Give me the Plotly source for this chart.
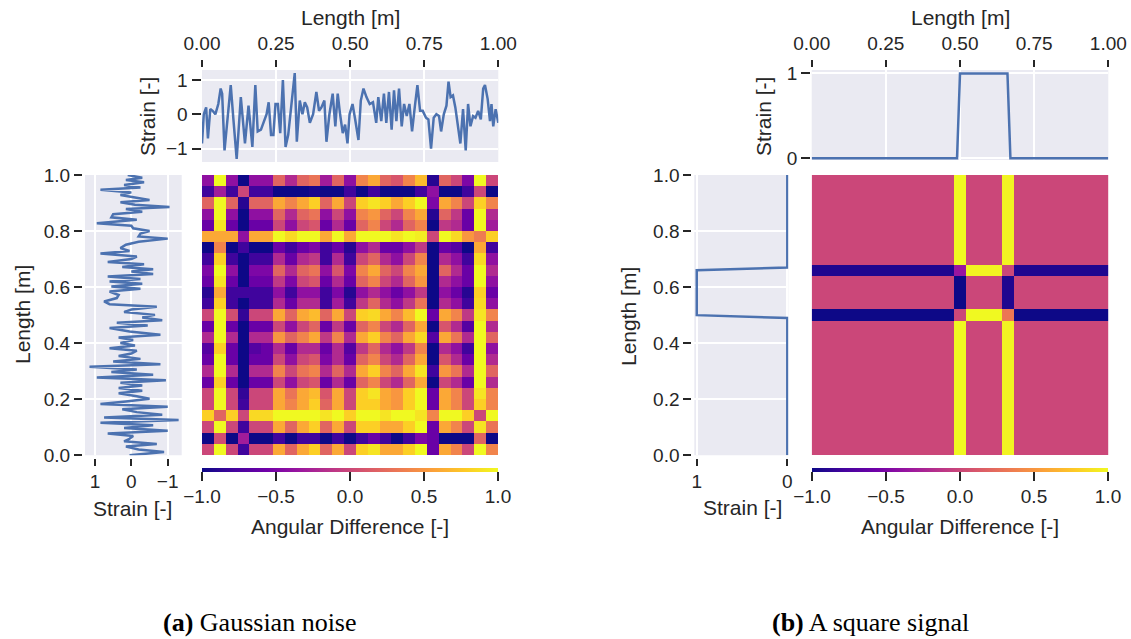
import plotly.graph_objects as go

# ---------------- DATA ----------------
# (a) Gaussian noise: signal along the top (x = length, y = strain)
gn_top_length = [0.0, 0.006, 0.014, 0.020, 0.028, 0.036, 0.045, 0.055, 0.063, 0.068, 0.076, 0.085, 0.097, 0.106,
                 0.117, 0.131, 0.145, 0.157, 0.170, 0.180, 0.188, 0.199, 0.210, 0.218, 0.225, 0.233, 0.241, 0.248,
                 0.256, 0.264, 0.273, 0.282, 0.291, 0.301, 0.313, 0.320, 0.330, 0.339, 0.347, 0.355, 0.364, 0.375,
                 0.386, 0.395, 0.403, 0.413, 0.420, 0.430, 0.441, 0.450, 0.458, 0.466, 0.475, 0.483, 0.491, 0.498,
                 0.508, 0.517, 0.528, 0.536, 0.545, 0.555, 0.566, 0.577, 0.588, 0.595, 0.605, 0.614, 0.622, 0.631,
                 0.640, 0.648, 0.656, 0.665, 0.674, 0.682, 0.691, 0.700, 0.709, 0.718, 0.727, 0.736, 0.745, 0.756,
                 0.764, 0.773, 0.782, 0.791, 0.800, 0.807, 0.816, 0.825, 0.832, 0.839, 0.847, 0.855, 0.864, 0.872,
                 0.881, 0.890, 0.898, 0.906, 0.915, 0.923, 0.932, 0.941, 0.949, 0.955, 0.964, 0.972, 0.977, 0.983,
                 0.991, 1.0]
gn_top_strain = [-0.85, 0.0, 0.2, -0.7, 0.15, 0.1, 0.0, 0.3, 0.75, 0.6, -1.05, -0.15, 0.85, -0.15,
                 -1.3, 0.5, -0.85, 0.25, -0.95, 0.85, -0.5, -0.45, -0.2, 0.0, 0.35, -0.6, -0.6, 0.3,
                 0.3, -0.55, 1.0, -0.95, -0.6, 0.3, 1.2, -0.8, 0.4, 0.0, 0.35, 0.2, -0.25, 0.0,
                 0.65, 0.1, 0.2, 0.4, -0.8, 0.0, 0.6, -0.35, 0.6, 0.0, -0.55, -0.3, -0.85, 0.0,
                 0.3, -0.15, -0.75, 0.4, 0.75, 0.5, 0.3, 0.35, -0.25, 0.5, -0.2, 0.6, -0.25, 0.65,
                 -0.45, 0.7, -0.2, 0.75, -0.35, 0.3, -0.05, 0.3, -0.5, 0.2, 0.85, 0.1, 0.1, -0.1,
                 -0.15, -1.0, -0.1, 0.0, -0.05, -0.5, 0.0, 0.25, 0.95, 0.5, 0.55, 0.2, -0.3, -0.85,
                 0.15, -1.05, 0.3, -0.35, -0.05, -0.1, 0.1, -0.15, 0.75, 0.85, 0.45, -0.2, 0.3, -0.35,
                 0.15, -0.25]

# (a) Gaussian noise: signal along the left side (x = strain, y = length)
gn_left_length = [1.0, 0.990, 0.982, 0.974, 0.964, 0.955, 0.947, 0.938, 0.929, 0.919, 0.911, 0.903, 0.894, 0.886,
                  0.879, 0.869, 0.860, 0.849, 0.840, 0.828, 0.819, 0.810, 0.800, 0.791, 0.781, 0.773, 0.762,
                  0.751, 0.739, 0.729, 0.720, 0.709, 0.700, 0.690, 0.682, 0.672, 0.664, 0.656, 0.647, 0.638,
                  0.629, 0.620, 0.612, 0.602, 0.594, 0.584, 0.572, 0.561, 0.549, 0.539, 0.530, 0.520, 0.511,
                  0.501, 0.492, 0.482, 0.473, 0.463, 0.454, 0.442, 0.430, 0.420, 0.411, 0.401, 0.392, 0.382,
                  0.373, 0.363, 0.354, 0.344, 0.335, 0.325, 0.316, 0.306, 0.297, 0.287, 0.278, 0.268, 0.259,
                  0.249, 0.240, 0.230, 0.221, 0.211, 0.202, 0.192, 0.183, 0.173, 0.164, 0.154, 0.145, 0.135,
                  0.126, 0.116, 0.107, 0.097, 0.088, 0.078, 0.069, 0.059, 0.050, 0.040, 0.031, 0.021, 0.012,
                  0.0]
gn_left_strain = [0.1, -0.3, 0.15, -0.35, 0.2, -0.25, 0.85, 0.0, 0.3, -0.1, -0.5, 0.3, -0.1, -1.05,
                  0.15, -0.3, 0.5, 0.55, -0.15, 0.95, 0.0, -0.05, -0.5, -0.25, -0.2, -1.0, -0.2,
                  0.15, 0.3, 0.05, 0.85, -0.15, 0.0, 0.65, -0.35, 0.25, -0.6, 0.0, -0.6, 0.65,
                  -0.25, 0.6, -0.3, 0.55, -0.25, 0.6, 0.35, 0.4, 0.75, 0.6, -0.7, 0.0, 0.2,
                  -0.65, -0.3, -0.85, 0.4, -0.45, 0.6, 0.05, -0.8, 0.35, -0.05, 0.3, -0.1, 0.6,
                  -0.15, 0.0, 0.35, -0.25, 0.5, -0.8, 1.15, -0.15, 0.55, -0.6, 0.95, -0.95, 0.3,
                  -0.3, 0.35, -0.3, 0.35, -0.15, -0.5, 0.15, 0.85, -1.0, 0.25, -0.15, -0.85, 0.75,
                  -1.3, 0.85, -0.6, 0.2, -1.0, 0.65, -0.05, 0.05, 0.2, -0.7, 0.15, -0.2, -0.9,
                  0.05]

# (a) Angular difference matrix, 25 x 25, rows listed from top (length 1) to bottom (length 0)
gn_matrix_top_to_bottom = [
    [-0.4, 1, -0.4, -1, -0.4, -0.4, 0.2, -0.2, 0.2, 0.3, -0.3, 0.2, -0.4, 0.4, 0.6, 0.2, 0.1, 0.4, 0.7, -0.9, 0.2, 0.0, -0.5, 1, 0.0],
    [-0.8, -0.3, -0.8, 0.0, -0.8, -0.8, -1, -1, -1, -0.95, -1, -1, -0.8, -1, -0.8, -1, -1, -1, -0.8, -0.4, -1, -1, -0.8, 0.0, -1],
    [0.2, 1, 0.2, -0.9, 0.2, 0.2, 0.6, 0.4, 0.6, 0.8, 0.2, 0.6, 0.0, 0.8, 0.9, 0.8, 0.6, 0.8, 1, -0.5, 0.6, 0.4, 0.0, 0.8, 0.4],
    [-0.4, 1, -0.4, -1, -0.4, -0.4, 0.2, -0.2, 0.2, 0.3, -0.4, 0.0, -0.4, 0.4, 0.5, 0.2, 0.0, 0.4, 0.6, -0.9, 0.2, -0.1, -0.6, 1, -0.2],
    [-0.6, 0.9, -0.6, -1, -0.6, -0.6, 0.0, -0.4, 0.0, 0.1, -0.6, -0.2, -0.6, 0.2, 0.4, 0.0, -0.2, 0.2, 0.4, -1, -0.1, -0.2, -0.6, 1, -0.3],
    [0.6, 0.6, 0.6, -0.4, 0.6, 0.6, 1, 0.85, 1, 1, 0.6, 1, 0.6, 1, 1, 1, 0.9, 1, 0.95, 0.0, 1, 0.85, 0.5, 0.35, 0.8],
    [-1, 0.4, -1, -0.8, -1, -1, -0.6, -0.8, -0.6, -0.5, -0.8, -0.6, -0.9, -0.4, -0.2, -0.6, -0.6, -0.4, -0.1, -1, -0.6, -0.7, -1, 0.6, -0.8],
    [-0.8, 0.8, -0.8, -1, -0.8, -0.8, -0.2, -0.6, -0.2, -0.1, -0.8, -0.2, -0.8, 0.0, 0.2, -0.2, -0.4, 0.0, 0.4, -1, -0.2, -0.4, -0.8, 0.85, -0.4],
    [-0.5, 1, -0.4, -1, -0.5, -0.5, 0.2, -0.2, 0.2, 0.3, -0.4, 0.1, -0.5, 0.4, 0.6, 0.2, 0.0, 0.4, 0.6, -1, 0.2, -0.2, -0.6, 1, -0.2],
    [-0.6, 0.9, -0.6, -1, -0.6, -0.6, -0.1, -0.5, 0.0, 0.1, -0.6, -0.2, -0.6, 0.2, 0.4, 0.0, -0.2, 0.2, 0.5, -1, -0.2, -0.4, -0.6, 1, -0.4],
    [-0.9, 0.6, -0.8, -0.8, -0.8, -0.8, -0.4, -0.8, -0.4, -0.4, -0.8, -0.5, -0.9, -0.4, -0.2, -0.4, -0.6, -0.4, -0.1, -1, -0.4, -0.6, -0.9, 0.8, -0.6],
    [-0.8, 0.8, -0.8, -1, -0.8, -0.8, -0.2, -0.6, -0.2, -0.2, -0.8, -0.3, -0.8, -0.1, 0.2, -0.2, -0.4, -0.1, 0.3, -1, -0.2, -0.4, -0.8, 0.85, -0.4],
    [0.0, 1, 0.05, -0.85, 0.0, 0.0, 0.6, 0.2, 0.6, 0.7, 0.2, 0.6, 0.0, 0.8, 0.85, 0.6, 0.4, 0.7, 1, -0.6, 0.6, 0.4, -0.1, 0.9, 0.4],
    [-0.6, 1, -0.6, -1, -0.6, -0.6, 0.0, -0.4, 0.0, 0.2, -0.6, -0.1, -0.6, 0.2, 0.4, 0.0, -0.2, 0.2, 0.6, -1, 0.1, -0.2, -0.7, 1, -0.2],
    [-0.2, 1, -0.2, -1, -0.2, -0.2, 0.5, 0.2, 0.4, 0.6, -0.1, 0.4, -0.2, 0.6, 0.8, 0.4, 0.2, 0.6, 0.85, -0.7, 0.6, 0.3, -0.2, 1, 0.2],
    [-0.7, 0.8, -0.6, -1, -0.7, -0.6, -0.2, -0.6, -0.2, -0.2, -0.6, -0.2, -0.7, -0.1, 0.2, -0.2, -0.4, -0.1, 0.4, -1, -0.2, -0.4, -0.8, 1, -0.4],
    [-0.6, 1, -0.6, -1, -0.6, -0.6, 0.0, -0.4, 0.0, 0.1, -0.5, -0.2, -0.6, 0.2, 0.4, 0.0, -0.2, 0.2, 0.6, -1, 0.1, -0.2, -0.6, 1, -0.2],
    [-0.2, 1, -0.2, -1, -0.2, -0.2, 0.4, 0.0, 0.3, 0.4, -0.2, 0.2, -0.2, 0.6, 0.8, 0.4, 0.2, 0.6, 0.9, -0.8, 0.5, 0.3, -0.2, 1, 0.2],
    [-0.6, 0.8, -0.6, -1, -0.6, -0.6, 0.0, -0.4, 0.0, 0.1, -0.6, -0.2, -0.6, 0.2, 0.4, 0.0, -0.2, 0.2, 0.6, -1, 0.0, -0.2, -0.6, 1, -0.2],
    [0.0, 1, 0.0, -0.85, 0.0, 0.0, 0.6, 0.3, 0.6, 0.7, 0.1, 0.6, 0.0, 0.8, 0.9, 0.6, 0.5, 0.8, 1, -0.6, 0.6, 0.4, 0.0, 0.9, 0.4],
    [0.0, 1, 0.0, -0.8, 0.0, 0.0, 0.6, 0.4, 0.6, 0.8, 0.2, 0.6, 0.0, 0.8, 0.8, 0.6, 0.5, 0.8, 1, -0.6, 0.6, 0.4, 0.0, 0.8, 0.4],
    [0.8, 0.2, 0.8, 0.0, 0.85, 0.85, 1, 1, 1, 1, 0.9, 1, 0.8, 1, 1, 0.9, 1, 1, 0.9, 0.4, 1, 1, 0.8, 0.0, 1],
    [0.0, 1, 0.0, -0.8, 0.0, 0.0, 0.6, 0.2, 0.6, 0.8, 0.2, 0.6, 0.0, 0.8, 0.8, 0.6, 0.6, 0.8, 1, -0.6, 0.6, 0.4, 0.0, 0.9, 0.3],
    [-1, 0.05, -1, -0.3, -1, -1, -0.8, -1, -0.8, -0.8, -1, -0.8, -1, -0.8, -0.6, -0.8, -1, -0.8, -0.5, -0.6, -1, -1, -1, 0.2, -1],
    [0.0, 1, 0.0, -0.8, 0.0, 0.0, 0.6, 0.2, 0.6, 0.8, 0.2, 0.6, 0.0, 0.8, 0.9, 0.6, 0.6, 0.8, 1, -0.6, 0.6, 0.4, 0.0, 1, 0.4],
]

# (b) Square signal (same profile on top and on the left)
sq_length = [0.0, 0.49, 0.50, 0.66, 0.67, 1.0]
sq_strain = [0.0, 0.0, 1.0, 1.0, 0.0, 0.0]

# (b) Angular difference matrix, rows listed from top (length 1) to bottom (length 0)
sq_base_row = [0.0] * 12 + [1.0] + [0.0] * 3 + [0.97] + [0.0] * 8
sq_row_066 = [-0.93] * 12 + [-0.35] + [0.97] * 3 + [0.0] + [-0.93] * 8
sq_row_mid = [0.0] * 12 + [-1.0] + [0.0] * 3 + [-0.93] + [0.0] * 8
sq_row_050 = [-1.0] * 12 + [0.0] + [1.0] * 3 + [0.32] + [-1.0] * 8
sq_matrix_top_to_bottom = ([sq_base_row] * 8 + [sq_row_066] + [sq_row_mid] * 3 + [sq_row_050]
                           + [sq_base_row] * 12)

cbar_ticks = [-1.0, -0.5, 0.0, 0.5, 1.0]
cbar_ticktext = ["\u22121.0", "\u22120.5", "0.0", "0.5", "1.0"]
len_ticks = [0.0, 0.25, 0.5, 0.75, 1.0]
len_ticktext = ["0.00", "0.25", "0.50", "0.75", "1.00"]
vlen_ticks = [0.0, 0.2, 0.4, 0.6, 0.8, 1.0]
vlen_ticktext = ["0.0", "0.2", "0.4", "0.6", "0.8", "1.0"]

# ---------------- LAYOUT HELPERS ----------------
W, H = 1131, 639
def fx(p):
    return p / W
def fy(p):
    return 1 - p / H

BG = "#EAEAF2"
LINE = "#4C72B0"
TXT = "#262626"
TICKF = dict(family="Liberation Sans, Arial, sans-serif", size=19, color=TXT)
LABF = dict(family="Liberation Sans, Arial, sans-serif", size=21, color=TXT)

fig = go.Figure()

def cbar(cx):
    return dict(orientation="h", x=fx(cx), xanchor="center", y=fy(468), yanchor="top",
                len=296, lenmode="pixels", thickness=4, thicknessmode="pixels",
                outlinewidth=0, xpad=0, ypad=0, ticks="outside", ticklen=9, tickwidth=2,
                tickcolor=TXT, tickvals=cbar_ticks, ticktext=cbar_ticktext, tickfont=TICKF)

# Panel (a)
fig.add_trace(go.Heatmap(z=gn_matrix_top_to_bottom[::-1], x0=0.02, dx=0.04, y0=0.02, dy=0.04,
                         colorscale="Plasma", zmin=-1, zmax=1, xaxis="x", yaxis="y",
                         colorbar=cbar(350), hoverinfo="skip"))
fig.add_trace(go.Scatter(x=gn_top_length, y=gn_top_strain, mode="lines",
                         line=dict(color=LINE, width=2.5), xaxis="x2", yaxis="y2", showlegend=False))
fig.add_trace(go.Scatter(x=gn_left_strain, y=gn_left_length, mode="lines",
                         line=dict(color=LINE, width=2.5), xaxis="x3", yaxis="y3", showlegend=False))
# Panel (b)
fig.add_trace(go.Heatmap(z=sq_matrix_top_to_bottom[::-1], x0=0.02, dx=0.04, y0=0.02, dy=0.04,
                         colorscale="Plasma", zmin=-1, zmax=1, xaxis="x4", yaxis="y4",
                         colorbar=cbar(960), hoverinfo="skip"))
fig.add_trace(go.Scatter(x=sq_length, y=sq_strain, mode="lines",
                         line=dict(color=LINE, width=2.5), xaxis="x5", yaxis="y5", showlegend=False))
fig.add_trace(go.Scatter(x=sq_strain, y=sq_length, mode="lines",
                         line=dict(color=LINE, width=2.5), xaxis="x6", yaxis="y6", showlegend=False))

hid = dict(visible=False, showgrid=False, zeroline=False, fixedrange=True, automargin=False)
tick_common = dict(ticks="outside", tickwidth=2, tickcolor=TXT, tickfont=TICKF, showgrid=True,
                   gridcolor="white", gridwidth=1.5, zeroline=False, showline=False, automargin=False)

def panel(n0, x_left, x_right, left_bg_l, left_bg_r, top_bottom, top_yrange, top_yticks, top_yticktext,
          left_xrange, left_xticks, left_xticktext):
    sfx = '' if n0 == 1 else str(n0)
    hm_dom_x = [fx(x_left), fx(x_right)]
    hm_dom_y = [fy(455.3), fy(175)]
    lay = {}
    lay[f"xaxis{sfx}"] = dict(hid, domain=hm_dom_x, range=[0, 1], anchor=f"y{sfx}")
    lay[f"yaxis{sfx}"] = dict(hid, domain=hm_dom_y, range=[0, 1], anchor=f"x{sfx}")
    # top line plot
    lay[f"xaxis{n0+1}"] = dict(tick_common, domain=hm_dom_x, range=[0, 1], side="top", anchor="free",
                               position=fy(67), ticklen=7, tickvals=len_ticks, ticktext=len_ticktext,
                               ticklabelstandoff=2)
    lay[f"yaxis{n0+1}"] = dict(tick_common, domain=[fy(top_bottom), fy(70)], range=top_yrange,
                               anchor="free", position=fx(x_left - 1.5), ticklen=9,
                               tickvals=top_yticks, ticktext=top_yticktext)
    # left line plot
    lay[f"xaxis{n0+2}"] = dict(tick_common, domain=[fx(left_bg_l), fx(left_bg_r)], range=left_xrange,
                               anchor="free", position=fy(457.5), ticklen=7,
                               tickvals=left_xticks, ticktext=left_xticktext)
    lay[f"yaxis{n0+2}"] = dict(tick_common, domain=hm_dom_y, range=[0, 1], anchor="free",
                               position=fx(left_bg_l - 3), ticklen=8,
                               tickvals=vlen_ticks, ticktext=vlen_ticktext)
    return lay

layout_axes = {}
layout_axes.update(panel(1, 202, 498.3, 85, 181.7, 162, [-1.39, 1.29], [-1, 0, 1], ["\u22121", "0", "1"],
                         [1.275, -1.385], [1, 0, -1], ["1", "0", "\u22121"]))
layout_axes.update(panel(4, 811.7, 1108.3, 694.3, 788.3, 160, [-0.02, 1.04], [0, 1], ["0", "1"],
                         [1.027, -0.011], [1, 0], ["1", "0"]))

shapes = []
# plot backgrounds for the line plots (seaborn darkgrid style)
for (x0, x1, y0, y1) in [(202, 498.3, 70, 162), (85, 181.7, 175, 455.3),
                         (811.7, 1108.3, 70, 160), (694.3, 788.3, 175, 455.3)]:
    shapes.append(dict(type="rect", xref="paper", yref="paper", x0=fx(x0), x1=fx(x1), y0=fy(y1), y1=fy(y0),
                       fillcolor=BG, line=dict(width=0), layer="below"))

ann = []
def text(x, y, s, font=LABF, angle=0):
    ann.append(dict(x=fx(x), y=fy(y), xref="paper", yref="paper", text=s, showarrow=False,
                    font=font, textangle=angle, xanchor="center", yanchor="middle"))

# Panel (a) labels
text(350, 18, "Length [m]")
text(148, 117, "Strain [-]", angle=-90)
text(22, 315, "Length [m]", angle=-90)
text(132, 508, "Strain [-]")
text(350, 526, "Angular Difference [-]")
# Panel (b) labels
text(960, 18, "Length [m]")
text(764, 117, "Strain [-]", angle=-90)
text(628, 316, "Length [m]", angle=-90)
text(742, 507, "Strain [-]")
text(960, 526, "Angular Difference [-]")
# captions
CAPF = dict(family="Liberation Serif, Times New Roman, serif", size=26, color="black")
text(260, 622, "<b>(a)</b> Gaussian noise", font=CAPF)
text(871, 622, "<b>(b)</b> A square signal", font=CAPF)

fig.update_layout(template="none", width=W, height=H, margin=dict(l=0, r=0, t=0, b=0, pad=0, autoexpand=False),
                  paper_bgcolor="white", plot_bgcolor="rgba(0,0,0,0)",
                  font=dict(family="Liberation Sans, Arial, sans-serif", color=TXT),
                  showlegend=False, shapes=shapes, annotations=ann, **layout_axes)

fig.write_html("out.html")
